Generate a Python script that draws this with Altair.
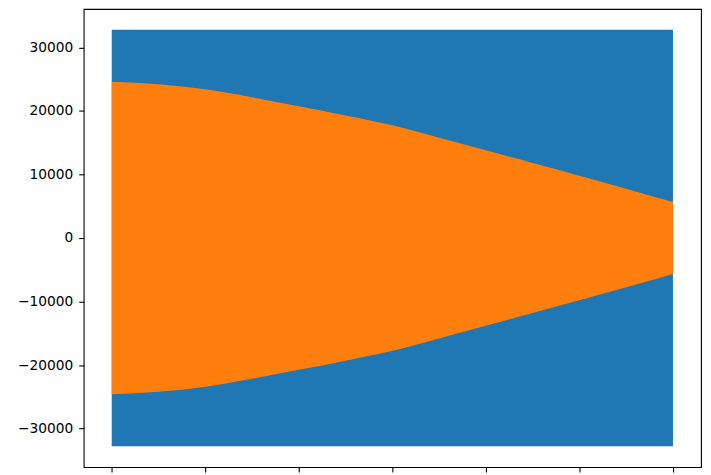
import altair as alt
import pandas as pd

# Sample positions (in tick units) and envelope amplitudes
blue_x = [0, 6]
blue_top = [32767, 32767]
blue_bottom = [-32768, -32768]

orange_x = [0, 0.5, 1, 1.5, 2, 2.5, 3, 3.5, 4, 4.5, 5, 5.5, 6]
orange_env = [24600, 24200, 23400, 22150, 20750, 19300, 17750, 15800, 13800, 11800, 9800, 7750, 5650]

x_ticks = [0, 1, 2, 3, 4, 5, 6]
y_ticks = [-30000, -20000, -10000, 0, 10000, 20000, 30000]

blue_df = pd.DataFrame({"x": blue_x, "top": blue_top, "bottom": blue_bottom})
orange_df = pd.DataFrame({"x": orange_x, "top": orange_env,
                          "bottom": [-v for v in orange_env]})

xscale = alt.Scale(domain=[-0.3, 6.3], nice=False, zero=False)
yscale = alt.Scale(domain=[-36045, 36044], nice=False, zero=False)

xaxis = alt.Axis(values=x_ticks, labels=True, labelExpr="''", title=None, grid=False,
                 domain=False, ticks=True, tickSize=5, tickColor="#000", tickWidth=1.1)
yaxis = alt.Axis(values=y_ticks, format="d", title=None, grid=False, domain=False,
                 tickSize=5, tickColor="#000", tickWidth=1.1, labelPadding=6,
                 labelFont="DejaVu Sans", labelFontSize=13.8, labelColor="#000")

blue = alt.Chart(blue_df).mark_area(color="#1f77b4", opacity=1).encode(
    x=alt.X("x:Q", scale=xscale, axis=xaxis),
    y=alt.Y("top:Q", scale=yscale, axis=yaxis),
    y2="bottom:Q",
)

orange = alt.Chart(orange_df).mark_area(color="#ff7f0e", opacity=1, interpolate="monotone").encode(
    x=alt.X("x:Q", scale=xscale, axis=xaxis),
    y=alt.Y("top:Q", scale=yscale, axis=yaxis),
    y2="bottom:Q",
)

chart = alt.layer(blue, orange).properties(
    width=620, height=460,
    autosize=alt.AutoSizeParams(type="none"),
    padding={"left": 76, "top": 0, "right": 2, "bottom": 10},
    background="white",
).configure_view(stroke="#000", strokeWidth=1.1)

chart.save("out.html", embed_options={"renderer": "svg", "actions": False})
